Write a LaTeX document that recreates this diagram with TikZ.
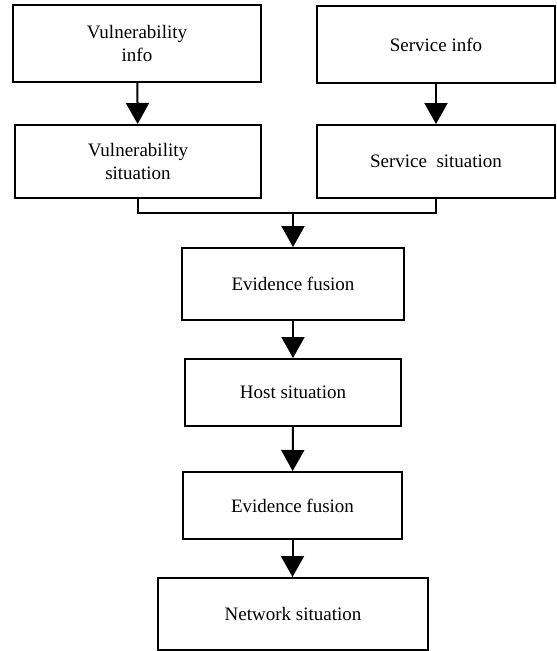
\documentclass[tikz,border=0pt]{standalone}
\usepackage{fontspec}
\setmainfont{Liberation Serif}
\usetikzlibrary{arrows.meta}
\begin{document}
\begin{tikzpicture}[x=1pt,y=-1pt,
  box/.style={draw,line width=2pt,align=center,inner sep=0pt,
    font=\fontsize{19}{23}\selectfont},
  conn/.style={line width=2pt},
  arr/.style={line width=2pt,-{Triangle[width=23pt,length=21pt]}}]
\fill[white] (0,0) rectangle (557,651);
\useasboundingbox (0,0) rectangle (557,651);
\node[box,minimum width=248pt,minimum height=77pt] (b1) at (137,43.5) {Vulnerability\\info};
\node[box,minimum width=238pt,minimum height=77pt] (b2) at (436,44.5) {Service info};
\node[box,minimum width=246pt,minimum height=73pt] (b3) at (138,161.5) {Vulnerability\\situation};
\node[box,minimum width=238pt,minimum height=73pt] (b4) at (436,161.5) {Service\ \ situation};
\node[box,minimum width=222pt,minimum height=72pt] (b5) at (293,284) {Evidence fusion};
\node[box,minimum width=216pt,minimum height=67pt] (b6) at (293,392.5) {Host situation};
\node[box,minimum width=219pt,minimum height=67pt] (b7) at (292.5,505.5) {Evidence fusion};
\node[box,minimum width=270pt,minimum height=72pt] (b8) at (293,614) {Network situation};
\coordinate (m) at (293,213);
\draw[arr] (b1) -- (b3);
\draw[arr] (b2) -- (b4);
\draw[conn] (b3.south) |- (m) -| (b4.south);
\draw[arr] (m) -- (b5.north);
\draw[arr] (b5) -- (b6);
\draw[arr] (b6) -- (b7);
\draw[arr] (b7.south) -- (b8.north -| b7.south);
\end{tikzpicture}
\end{document}
